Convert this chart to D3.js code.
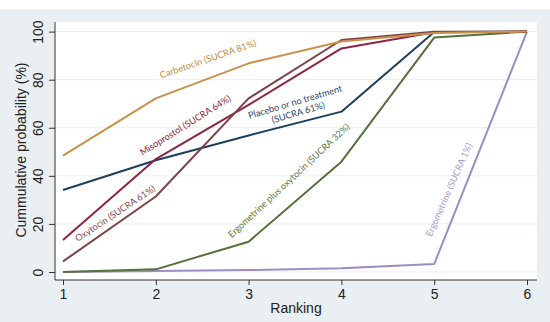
<!DOCTYPE html>
<html>
  <head>
    <meta charset="utf-8">
    <title>SUCRA</title>
    <script src="https://cdn.jsdelivr.net/npm/d3@7"></script>
    <style>
      body { margin: 0; background: #fff; }
      text { font-family: "Liberation Sans", Arial, sans-serif; }
      .lbl { font-family: Lato, "Open Sans", sans-serif; font-size: 9.2px; }
    </style>
  </head>
  <body>
    <svg width="550" height="322"></svg>

    <script>
      // rankings and tick values
      const ranks = [1, 2, 3, 4, 5, 6];
      const yTicks = [0, 20, 40, 60, 80, 100];

      // cumulative probabilities (%) per treatment
      const carbetocin = [48.4, 72.2, 86.8, 95.9, 99.4, 100];
      const placebo = [34.1, 46.5, 56.8, 66.7, 99.8, 100];
      const misoprostol = [13.3, 47, 69.5, 93, 99.7, 100];
      const oxytocin = [4.4, 31.4, 72.2, 96.5, 99.9, 100];
      const ergoOxy = [0, 1.1, 12.6, 45.9, 97.5, 100];
      const ergometrine = [0, 0.4, 0.8, 1.6, 3.3, 100];

      const names = [
        "Carbetocin (SUCRA 81%)",
        "Placebo or no treatment|(SUCRA 61%)",
        "Misoprostol (SUCRA 64%)",
        "Oxytocin (SUCRA 61%)",
        "Ergometrine plus oxytocin (SUCRA 32%)",
        "Ergometrine (SUCRA 1%)"
      ];

      const series = [
        { values: ergometrine, color: "#9b8dc3", label: "#a79cc8", pos: [452, 191], angle: -66 },
        { values: ergoOxy, color: "#55703a", label: "#5c7640", pos: [291, 183], angle: -43 },
        { values: placebo, color: "#1e3f5c", label: "#2a4662", pos: [296, 105], angle: -16.5 },
        { values: misoprostol, color: "#8e2443", label: "#8e2443", pos: [187, 128], angle: -32 },
        { values: oxytocin, color: "#7c4446", label: "#8a4a4e", pos: [117, 216], angle: -33.5 },
        { values: carbetocin, color: "#c8924a", label: "#c28c45", pos: [209, 62], angle: -19 }
      ];
      const nameOf = [5, 4, 1, 2, 3, 0];

      const svg = d3.select("svg");

      // graph region (light blue-grey) and plot region (white)
      svg.append("rect").attr("x", 0).attr("y", 9).attr("width", 550).attr("height", 313)
        .attr("fill", "#e9eff2");
      svg.append("rect").attr("x", 55).attr("y", 22).attr("width", 482).attr("height", 258)
        .attr("fill", "#ffffff");

      const x = d3.scaleLinear().domain([1, 6]).range([63, 527]);
      const y = d3.scaleLinear().domain([0, 100]).range([272, 31.6]);

      // grid
      svg.append("g").selectAll("line").data(yTicks).enter().append("line")
        .attr("x1", 55).attr("x2", 537)
        .attr("y1", d => y(d)).attr("y2", d => y(d))
        .attr("stroke", "#e6edf1").attr("stroke-width", 1);

      // axes
      const yAxis = svg.append("g").attr("transform", "translate(55,0)")
        .call(d3.axisLeft(y).tickValues(yTicks).tickSize(6).tickPadding(4));
      yAxis.select(".domain").attr("d", "M0,22V280");
      yAxis.selectAll("text")
        .attr("font-size", 14).attr("fill", "#222")
        .attr("text-anchor", "middle")
        .attr("x", null).attr("dy", null)
        .attr("transform", "translate(-12,0) rotate(-90)");

      const xAxis = svg.append("g").attr("transform", "translate(0,280)")
        .call(d3.axisBottom(x).tickValues(ranks).tickSize(5).tickPadding(4).tickFormat(d3.format("d")));
      xAxis.select(".domain").attr("d", "M55,0H537");
      xAxis.selectAll("text").attr("font-size", 14).attr("fill", "#222");
      svg.selectAll(".domain, .tick line").attr("stroke", "#333");

      svg.append("text").attr("x", 296).attr("y", 313).attr("text-anchor", "middle")
        .attr("font-size", 14).attr("fill", "#222").text("Ranking");
      svg.append("text").attr("transform", "translate(26,150) rotate(-90)")
        .attr("text-anchor", "middle").attr("font-size", 14).attr("fill", "#222")
        .text("Cummulative probability (%)");

      // lines
      const line = d3.line().x((d, i) => x(ranks[i])).y(d => y(d));
      svg.append("g").selectAll("path").data(series).enter().append("path")
        .attr("d", d => line(d.values))
        .attr("fill", "none")
        .attr("stroke", d => d.color)
        .attr("stroke-width", 2)
        .attr("stroke-linejoin", "round");

      // in-plot labels
      series.forEach((s, i) => {
        const parts = names[nameOf[i]].split("|");
        const t = svg.append("text").attr("class", "lbl")
          .attr("transform", `translate(${s.pos[0]},${s.pos[1]}) rotate(${s.angle})`)
          .attr("text-anchor", "middle").attr("fill", s.label);
        parts.forEach((p, j) => {
          t.append("tspan").attr("x", 0).attr("dy", j ? "1.2em" : 0).text(p);
        });
      });
    </script>
  </body>
</html>
